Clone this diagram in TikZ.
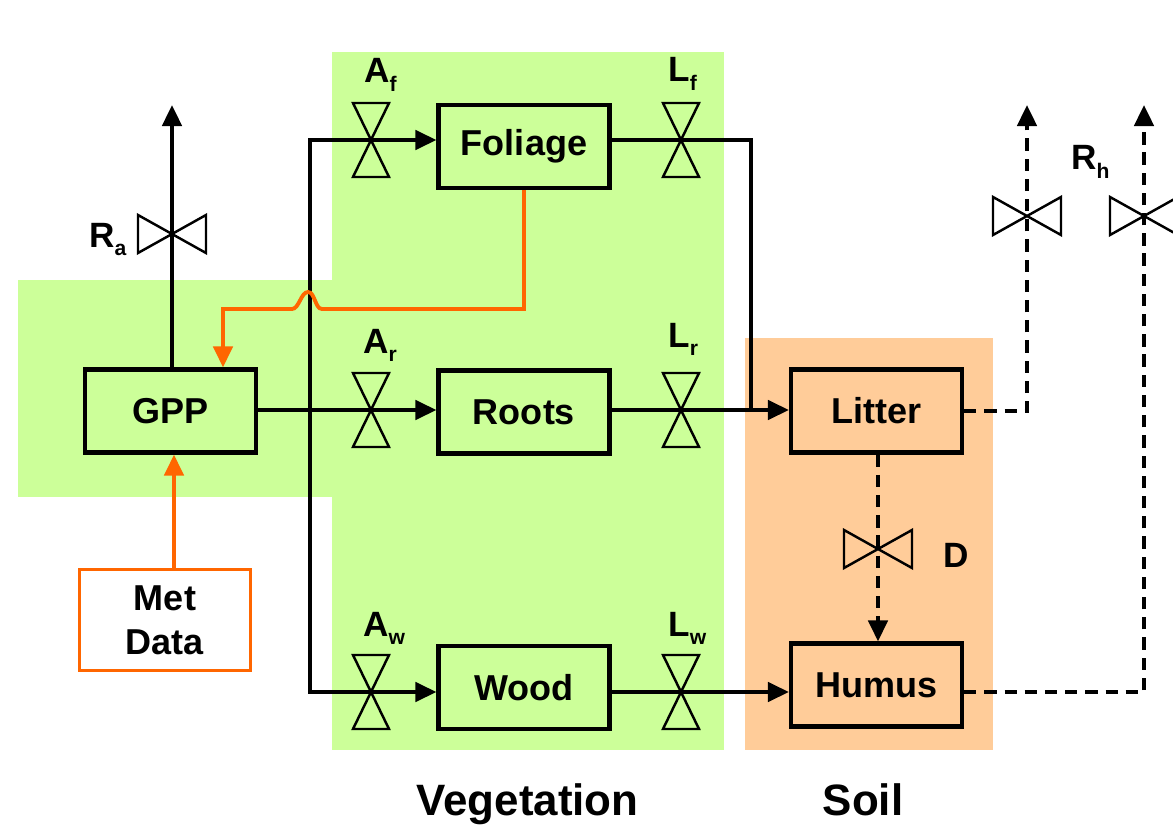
\documentclass[tikz,border=0pt]{standalone}
\usepackage{fontspec}
\setmainfont{Liberation Sans}
\usetikzlibrary{arrows.meta, positioning}
\definecolor{VegGreen}{HTML}{CCFF99}
\definecolor{SoilOrange}{HTML}{FFCC99}
\definecolor{MetOrange}{HTML}{FF6600}
\newcommand{\flux}[2]{#1\raisebox{-5pt}{\fontsize{12}{12}\selectfont #2}}
\tikzset{
    % Pool styles
    poolbox/.style={
        rectangle,
        draw=black,
        line width=2.4pt,
        minimum width=3.42cm,
        minimum height=1.66cm,
        text centered,
        font=\bfseries\fontsize{20.5}{24}\selectfont
    },
    vegbox/.style={
        poolbox,
        fill=VegGreen
    },
    soilbox/.style={
        poolbox,
        fill=SoilOrange
    },
    inputbox/.style={
        rectangle,
        draw=MetOrange,
        fill=white,
        line width=2.2pt,
        minimum width=3.42cm,
        minimum height=2.02cm,
        align=center,
        font=\bfseries\fontsize{20.5}{25}\selectfont
    },
    % Arrow styles
    flowline/.style={
        line width=2.2pt,
        black
    },
    flowarrow/.style={
        flowline,
        -{Triangle[length=12pt,width=11pt]}
    },
    resparrow/.style={
        flowarrow,
        dash pattern=on 7pt off 4.5pt
    },
    metarrow/.style={
        line width=2.2pt,
        MetOrange,
        -{Triangle[length=12pt,width=11pt]}
    },
    % Valves and labels
    valve/.style={
        draw=black,
        line width=1.4pt
    },
    vvalve/.pic={\draw[valve] (-18,-37) -- (18,-37) -- (-18,37) -- (18,37) -- cycle;},
    hvalve/.pic={\draw[valve] (-34,-19) -- (-34,19) -- (34,-19) -- (34,19) -- cycle;},
    fluxlabel/.style={
        inner sep=0pt,
        anchor=base west,
        font=\bfseries\fontsize{20}{24}\selectfont
    },
    regionlabel/.style={
        inner sep=0pt,
        anchor=base,
        font=\bfseries\fontsize{25}{30}\selectfont
    }
}
\begin{document}
\begin{tikzpicture}[x=0.02cm, y=-0.02cm]
    \useasboundingbox (0,0) rectangle (1173,828);
    \clip (0,0) rectangle (1173,828);

    % Compartments
    \fill[VegGreen] (332,52) rectangle (724,750);
    \fill[VegGreen] (18,280) rectangle (332,497);
    \fill[SoilOrange] (745,338) rectangle (993,750);

    % Pools
    \node[vegbox] (gpp) at (170.5,411) {GPP};
    \node[vegbox] (foliage) at (524,146.5) {Foliage};
    \node[vegbox] (roots) at (524,412) {Roots};
    \node[vegbox] (wood) at (524,687.5) {Wood};
    \node[soilbox] (litter) at (876.5,411) {Litter};
    \node[soilbox] (humus) at (876.5,685) {Humus};
    \node[inputbox] (metdata) at (165,620) {Met\\Data};

    % Valve points
    \coordinate (af) at (371,140);
    \coordinate (lf) at (681,140);
    \coordinate (ar) at (371,410);
    \coordinate (lr) at (681,410);
    \coordinate (aw) at (371,692);
    \coordinate (lw) at (681,692);
    \coordinate (ra) at (172,234);
    \coordinate (rhl) at (1027,216);
    \coordinate (rhh) at (1144,216);
    \coordinate (dv) at (878,549);

    % Corners and free ends
    \coordinate (trunktop) at (310,140);
    \coordinate (trunkbot) at (310,692);
    \coordinate (lfturn) at (751,140);
    \coordinate (fbturn) at (223,309);
    \coordinate (ratop) at (172,105);
    \coordinate (rhltop) at (1027,105);
    \coordinate (rhhtop) at (1144,105);

    % Allocation
    \draw[flowarrow, {Triangle[length=12pt,width=11pt]}-{Triangle[length=12pt,width=11pt]}]
        (af -| foliage.west) -- (af) -- (trunktop) -- (trunkbot) -- (aw) -- (aw -| wood.west);
    \draw[flowarrow] (gpp.east |- ar) -- (ar) -- (ar -| roots.west);

    % Litterfall
    \draw[flowline] (foliage.east |- lf) -- (lf) -- (lfturn) -- (lfturn |- lr);
    \draw[flowarrow] (roots.east |- lr) -- (lr) -- (lr -| litter.west);
    \draw[flowarrow] (wood.east |- lw) -- (lw) -- (lw -| humus.west);

    % Respiration
    \draw[flowarrow] (gpp.north -| ra) -- (ra) -- (ratop);
    \draw[resparrow] (litter.east) -- (litter.east -| rhl) -- (rhl) -- (rhltop);
    \draw[resparrow] (humus.east |- lw) -- (lw -| rhh) -- (rhh) -- (rhhtop);
    \draw[resparrow] (litter.south -| dv) -- (dv) -- (humus.north -| dv);

    % Met forcing and foliage feedback
    \draw[metarrow] ([xshift=0.18cm]metdata.north) -- ([xshift=0.18cm]metdata.north |- gpp.south);
    \draw[metarrow] (foliage.south) -- (foliage.south |- fbturn) -- (322,309)
        .. controls (315,309) and (315,292) .. (308,292)
        .. controls (301,292) and (299,309) .. (292,309) -- (fbturn) -- (fbturn |- gpp.north);

    % Valves
    \foreach \v in {af,lf,ar,lr,aw,lw}
        \pic at (\v) {vvalve};
    \foreach \v in {ra,rhl,rhh,dv}
        \pic at (\v) {hvalve};

    % Flux labels
    \node[fluxlabel] (lblaf) at (364,83) {\flux{A}{f}};
    \node[fluxlabel] (lbllf) at (668,82) {\flux{L}{f}};
    \node[fluxlabel] (lblar) at (363,353) {\flux{A}{r}};
    \node[fluxlabel] (lbllr) at (668,347) {\flux{L}{r}};
    \node[fluxlabel] (lblaw) at (363,636) {\flux{A}{w}};
    \node[fluxlabel] (lbllw) at (668,636) {\flux{L}{w}};
    \node[fluxlabel] (lblra) at (89,247) {\flux{R}{a}};
    \node[fluxlabel] (lblrh) at (1071,170) {\flux{R}{h}};
    \node[fluxlabel] (lbld) at (943,567) {D};

    % Compartment labels
    \node[regionlabel] (veglabel) at (527.5,815) {Vegetation};
    \node[regionlabel] (soillabel) at (863,815) {Soil};
\end{tikzpicture}
\end{document}
